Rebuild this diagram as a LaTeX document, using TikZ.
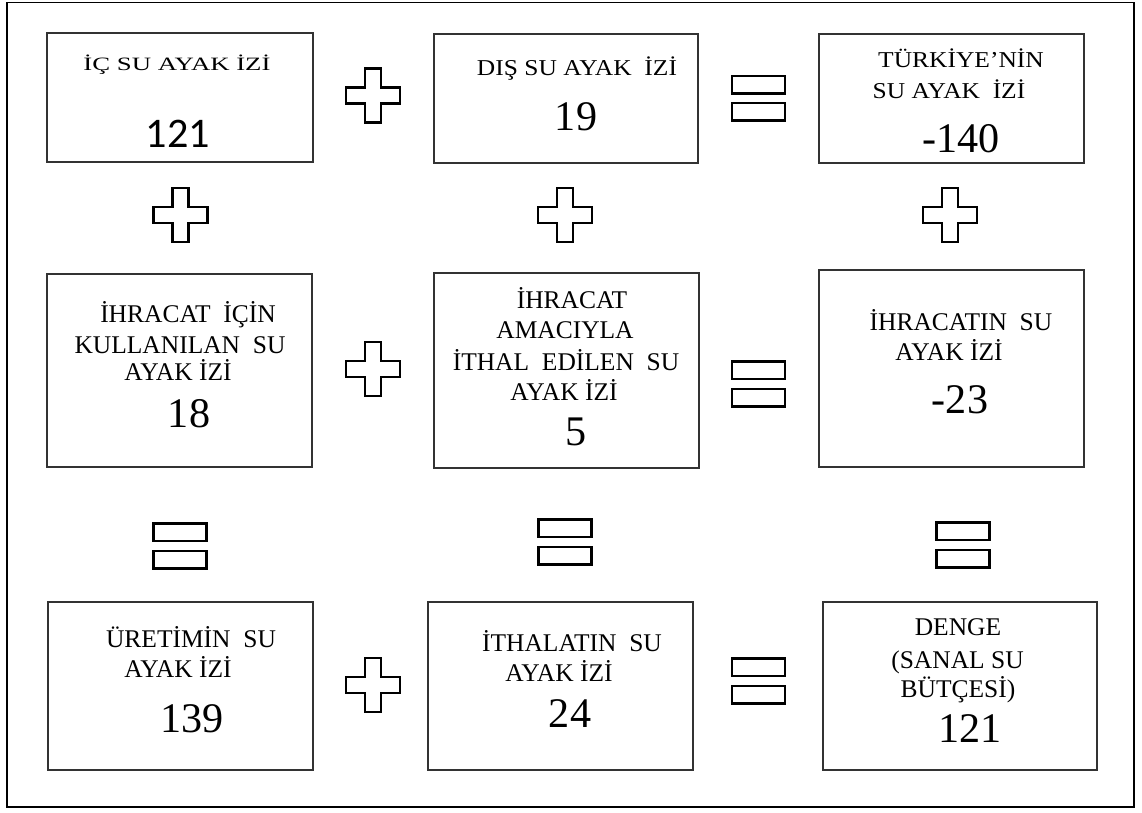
\documentclass[tikz,border=0pt]{standalone}
\usepackage{fontspec}
\setmainfont{Liberation Serif}
\newfontfamily\calibri{Carlito}
\usepackage{graphicx}
\usetikzlibrary{fit}

\begin{document}
\begin{tikzpicture}[
  x=0.02cm, y=-0.02cm,
  kutu/.style={rectangle, draw=black!80, line width=0.7pt, inner sep=0pt},
  baslik/.style={anchor=base, inner sep=0pt, font=\fontsize{14.5pt}{17pt}\selectfont},
  sayi/.style={anchor=base, inner sep=0pt, font=\fontsize{24pt}{28pt}\selectfont},
  isaret/.style={draw=black, line width=1.4pt, line join=miter},
  arti/.pic={\draw[isaret] (-8.2,-27) -- (8.2,-27) -- (8.2,-8.2) -- (27,-8.2) -- (27,8.2)
    -- (8.2,8.2) -- (8.2,27) -- (-8.2,27) -- (-8.2,8.2) -- (-27,8.2) -- (-27,-8.2)
    -- (-8.2,-8.2) -- cycle;},
  esit/.pic={\draw[isaret] (-26.5,-22.3) rectangle (26.5,-4.8) (-26.5,4.8) rectangle (26.5,22.3);}
]
\useasboundingbox (0,0) rectangle (1142,812);
\draw[line width=1.1pt] (7,2.5) rectangle (1134,807);

% first row
\node[kutu, fit={(47,33) (313,162)}] (ic) {};
\node[baslik] (ic-b) at (177,70) {\scalebox{1.05}[0.74]{İÇ SU AYAK İZİ}};
\node[sayi, font=\calibri\fontsize{24pt}{28pt}\selectfont] (ic-s) at (178,147) {121};

\node[kutu, fit={(434,34) (698,163)}] (dis) {};
\node[baslik] (dis-b) at (577,75) {\scalebox{1}[0.89]{DIŞ SU AYAK~ İZİ}};
\node[sayi] (dis-s) at (576,130) {19};

\node[kutu, fit={(819,34) (1084,163)}] (tr) {};
\node[baslik] (tr-b1) at (961,67) {\scalebox{1}[0.89]{TÜRKİYE’NİN}};
\node[baslik] (tr-b2) at (949,98) {\scalebox{1}[0.89]{SU AYAK~ İZİ}};
\node[sayi] (tr-s) at (961,152) {-140};

% second row
\node[kutu, fit={(47,274) (312,467)}] (kul) {};
\node[baslik] (kul-b1) at (188,322) {İHRACAT~ İÇİN};
\node[baslik] (kul-b2) at (180,353) {KULLANILAN~ SU};
\node[baslik] (kul-b3) at (178,380) {AYAK İZİ};
\node[sayi] (kul-s) at (189,427) {18};

\node[kutu, fit={(434,273) (699,468)}] (ith) {};
\node[baslik] (ith-b1) at (572,308) {İHRACAT};
\node[baslik] (ith-b2) at (565,338) {AMACIYLA};
\node[baslik] (ith-b3) at (566,370) {İTHAL~ EDİLEN~ SU};
\node[baslik] (ith-b4) at (564,400) {AYAK İZİ};
\node[sayi] (ith-s) at (576,445) {5};

\node[kutu, fit={(819,270) (1084,467)}] (ihr) {};
\node[baslik] (ihr-b1) at (961,330) {İHRACATIN~ SU};
\node[baslik] (ihr-b2) at (949,360) {AYAK İZİ};
\node[sayi] (ihr-s) at (960,413) {-23};

% third row
\node[kutu, fit={(48,602) (313,770)}] (ur) {};
\node[baslik] (ur-b1) at (191,647) {ÜRETİMİN~ SU};
\node[baslik] (ur-b2) at (178,677) {AYAK İZİ};
\node[sayi] (ur-s) at (192,732) {139};

\node[kutu, fit={(428,602) (693,770)}] (itl) {};
\node[baslik] (itl-b1) at (572,651) {İTHALATIN~ SU};
\node[baslik] (itl-b2) at (559,681) {AYAK İZİ};
\node[sayi] (itl-s) at (570,727) {24};

\node[kutu, fit={(823,602) (1097,770)}] (dng) {};
\node[baslik] (dng-b1) at (958,635) {DENGE};
\node[baslik] (dng-b2) at (957.5,668) {(SANAL SU};
\node[baslik] (dng-b3) at (958,697) {BÜTÇESİ)};
\node[sayi] (dng-s) at (970,742) {121};

% operators
\pic at (373,95.5) {arti};
\pic at (758.5,98.2) {esit};
\pic at (180.5,215) {arti};
\pic at (565,215) {arti};
\pic at (950,215) {arti};
\pic at (373,369) {arti};
\pic at (758.5,384) {esit};
\pic at (180,546) {esit};
\pic at (565,542) {esit};
\pic at (963,545) {esit};
\pic at (373,685) {arti};
\pic at (758.5,681) {esit};
\end{tikzpicture}
\end{document}
